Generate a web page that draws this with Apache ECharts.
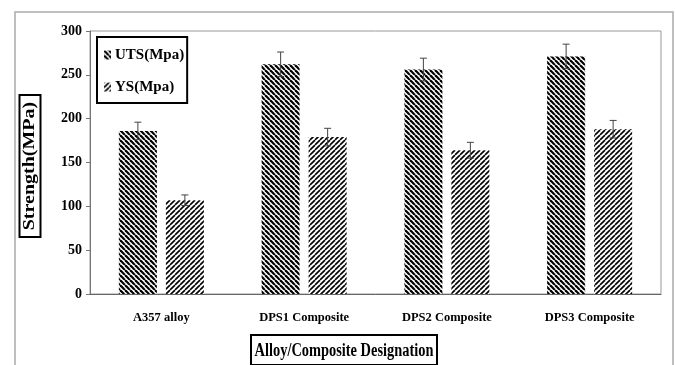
<!DOCTYPE html>
<html><head><meta charset="utf-8">
<script src="https://cdn.jsdelivr.net/npm/echarts@6/dist/echarts.min.js"></script>
<style>html,body{margin:0;padding:0;background:#fff}#c{width:675px;height:365px}</style>
</head><body><div id="c"></div>
<script>
const categories = ['A357 alloy', 'DPS1 Composite', 'DPS2 Composite', 'DPS3 Composite'];
const seriesNames = ['UTS(Mpa)', 'YS(Mpa)'];
const utsValues = [186, 262, 256, 271];
const utsErrors = [10, 14, 13, 14];
const ysValues = [107, 179, 164, 188];
const ysErrors = [6, 10, 9, 10];
const yMin = 0, yMax = 300, yInterval = 50;
const yAxisTitle = 'Strength(MPa)';
const xAxisTitle = 'Alloy/Composite Designation';

const FONT = '"Liberation Serif", "Times New Roman", serif';

function stripes(dir, lw) {
  const s = 5;
  const c = document.createElement('canvas');
  c.width = s; c.height = s;
  const g = c.getContext('2d');
  g.fillStyle = '#fff'; g.fillRect(0, 0, s, s);
  g.strokeStyle = '#000'; g.lineWidth = lw;
  for (let k = -1; k <= 1; k++) {
    g.beginPath();
    if (dir === 'back') { g.moveTo(k * s, 0); g.lineTo(k * s + s, s); }
    else { g.moveTo(k * s, s); g.lineTo(k * s + s, 0); }
    g.stroke();
  }
  return c;
}
const utsPattern = { image: stripes('back', 2.2), repeat: 'repeat' };
const ysPattern = { image: stripes('fwd', 1.6), repeat: 'repeat' };

const BAR_W = 38, BAR_GAP = 9;
const OFF = (BAR_W + BAR_GAP) / 2;

function errorSeries(name, values, errs, offset) {
  return {
    type: 'custom', name: name, silent: true, z: 10,
    data: values.map((v, i) => [i, v - errs[i], v + errs[i]]),
    renderItem: function (params, api) {
      const x = api.coord([api.value(0), 0])[0] + offset;
      const lo = api.coord([api.value(0), api.value(1)])[1];
      const hi = api.coord([api.value(0), api.value(2)])[1];
      const w = 3.5;
      const st = { stroke: '#444', lineWidth: 1 };
      return { type: 'group', children: [
        { type: 'line', shape: { x1: x, y1: lo, x2: x, y2: hi }, style: st },
        { type: 'line', shape: { x1: x - w, y1: hi, x2: x + w, y2: hi }, style: st },
        { type: 'line', shape: { x1: x - w, y1: lo, x2: x + w, y2: lo }, style: st }
      ] };
    }
  };
}

const chart = echarts.init(document.getElementById('c'), null, { renderer: 'canvas' });
chart.setOption({
  animation: false,
  backgroundColor: '#fff',
  grid: { left: 90, right: 14, top: 31, bottom: 71, show: true, borderColor: '#999', borderWidth: 1 },
  legend: {
    data: seriesNames, orient: 'vertical', left: 97, top: 37,
    padding: [9, 3, 7, 7], itemGap: 14, itemWidth: 7, itemHeight: 9, itemStyle: { borderWidth: 0 },
    borderColor: '#000', borderWidth: 2, icon: 'rect',
    textStyle: { fontFamily: FONT, fontWeight: 'bold', fontSize: 15, color: '#000', lineHeight: 18, padding: [0, 0, 0, -1] }
  },
  xAxis: {
    type: 'category', data: categories,
    axisLine: { lineStyle: { color: '#666', width: 1 } },
    axisTick: { show: false },
    axisLabel: { fontFamily: FONT, fontWeight: 'bold', fontSize: 12.5, color: '#000', margin: 17 },
    splitLine: { show: false }
  },
  yAxis: {
    type: 'value', min: yMin, max: yMax, interval: yInterval,
    axisLine: { show: true, lineStyle: { color: '#777', width: 1 } },
    axisTick: { show: true, length: 4, lineStyle: { color: '#777' } },
    axisLabel: { fontFamily: FONT, fontWeight: 'bold', fontSize: 14, color: '#000', margin: 8 },
    splitLine: { show: false }
  },
  series: [
    { type: 'bar', name: seriesNames[0], data: utsValues, barWidth: BAR_W, barGap: (BAR_GAP / BAR_W * 100) + '%', itemStyle: { color: utsPattern } },
    { type: 'bar', name: seriesNames[1], data: ysValues, barWidth: BAR_W, itemStyle: { color: ysPattern } },
    errorSeries('utsErr', utsValues, utsErrors, -OFF),
    errorSeries('ysErr', ysValues, ysErrors, OFF)
  ],
  graphic: [
    { type: 'rect', shape: { x: 15, y: 12, width: 658, height: 420 }, style: { fill: 'none', stroke: '#aaa', lineWidth: 1.5 }, silent: true, z: -1 },
    { type: 'group', x: 30, y: 166, rotation: Math.PI / 2, children: [
      { type: 'rect', shape: { x: -71, y: -10.5, width: 142, height: 21 }, style: { fill: '#fff', stroke: '#000', lineWidth: 2 } },
      { type: 'text', x: 0, y: 0, scaleY: 0.8, style: { text: yAxisTitle, font: 'bold 20px ' + FONT, fill: '#000', align: 'center', verticalAlign: 'middle' } }
    ] },
    { type: 'group', x: 344, y: 350, children: [
      { type: 'rect', shape: { x: -93, y: -15, width: 186, height: 30 }, style: { fill: '#fff', stroke: '#000', lineWidth: 2 } },
      { type: 'text', x: 0, y: 1, scaleX: 0.8, style: { text: xAxisTitle, font: 'bold 18px ' + FONT, fill: '#000', align: 'center', verticalAlign: 'middle' } }
    ] }
  ]
});
</script></body></html>
